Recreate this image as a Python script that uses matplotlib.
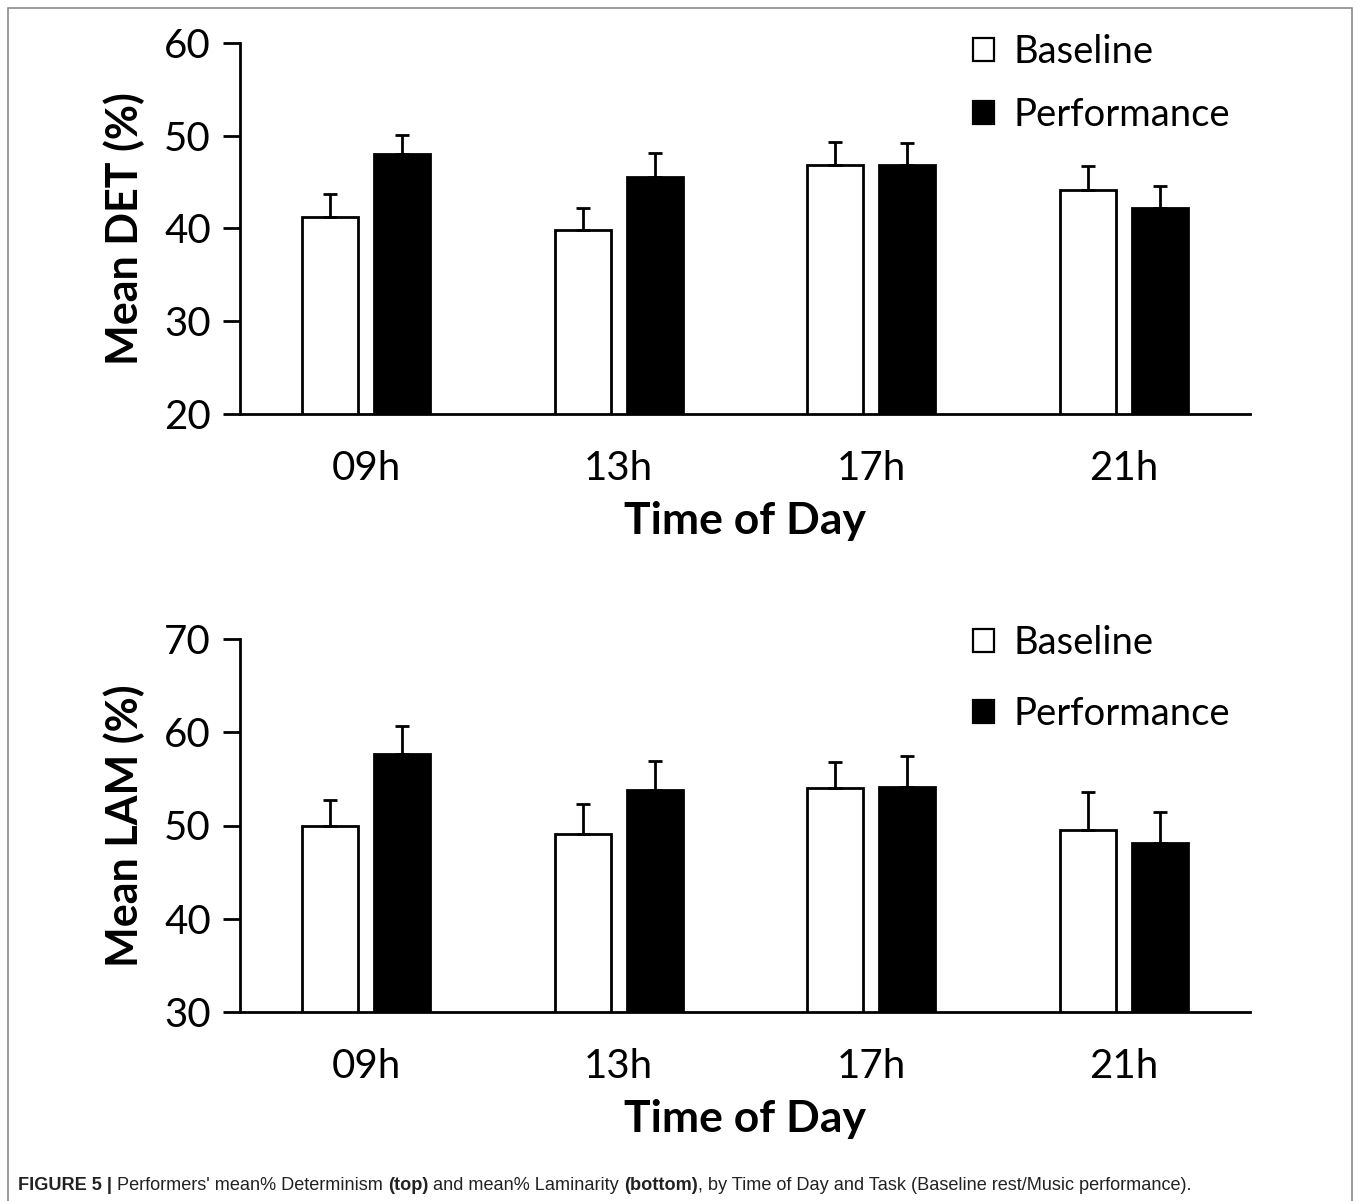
import matplotlib
matplotlib.use('Agg')
import matplotlib.pyplot as plt
from matplotlib.patches import Patch, Rectangle
import numpy as np

# Data
times = ['09h', '13h', '17h', '21h']

det_baseline = [41.2, 39.8, 46.9, 44.1]
det_baseline_err = [2.5, 2.4, 2.4, 2.6]
det_performance = [48.0, 45.6, 46.8, 42.2]
det_performance_err = [2.1, 2.5, 2.4, 2.4]

lam_baseline = [49.9, 49.1, 54.0, 49.5]
lam_baseline_err = [2.8, 3.2, 2.8, 4.1]
lam_performance = [57.7, 53.8, 54.1, 48.1]
lam_performance_err = [3.0, 3.1, 3.3, 3.4]

FONT = 'Lato'
W, H = 1358, 1201


def draw_panel(ax, base, base_err, perf, perf_err, ylim, ylabel, leg_anchor, leg_spacing):
    x = np.arange(len(times))
    width = 0.222
    off = 0.143
    err_kw = dict(ecolor='black', elinewidth=2, capsize=5, capthick=2)
    ax.bar(x - off, base, width, yerr=[[0] * len(base), base_err],
           color='white', edgecolor='black', linewidth=2, error_kw=err_kw,
           label='Baseline')
    ax.bar(x + off, perf, width, yerr=[[0] * len(perf), perf_err],
           color='black', edgecolor='black', linewidth=2, error_kw=err_kw,
           label='Performance')

    ax.set_xlim(-0.5, len(times) - 0.5)
    ax.set_ylim(*ylim)
    ax.set_yticks(np.arange(ylim[0], ylim[1] + 1, 10))
    ax.set_xticks(x)
    ax.set_xticklabels(times)
    ax.tick_params(axis='x', length=0, pad=26, labelsize=29)
    ax.tick_params(axis='y', length=12, width=2, direction='out', pad=9, labelsize=29)
    for lab in ax.get_xticklabels() + ax.get_yticklabels():
        lab.set_fontfamily(FONT)
    for s in ['top', 'right']:
        ax.spines[s].set_visible(False)
    for s in ['left', 'bottom']:
        ax.spines[s].set_linewidth(2)

    ax.set_ylabel(ylabel, fontsize=31, fontweight='bold', fontfamily=FONT, labelpad=14)
    ax.set_xlabel('Time of Day', fontsize=32, fontweight='bold', fontfamily=FONT, labelpad=10)

    handles = [Patch(facecolor='white', edgecolor='black', linewidth=1.6),
               Patch(facecolor='black', edgecolor='black', linewidth=1.6)]
    ax.legend(handles, ['Baseline', 'Performance'], loc='upper left',
              bbox_to_anchor=leg_anchor, frameon=False,
              prop={'family': FONT, 'size': 27.5},
              handlelength=0.55, handleheight=0.55, handletextpad=0.5,
              labelspacing=leg_spacing, borderaxespad=0, borderpad=0)


fig = plt.figure(figsize=(W / 100, H / 100), dpi=100)

ax1 = fig.add_axes([240 / W, 1 - 414 / H, 1010 / W, 371 / H])
draw_panel(ax1, det_baseline, det_baseline_err, det_performance, det_performance_err,
           (20, 60), 'Mean DET (%)', ((973 - 240) / 1010, (414 - 34) / 371), 0.72)

ax2 = fig.add_axes([240 / W, 1 - 1012 / H, 1010 / W, 373 / H])
draw_panel(ax2, lam_baseline, lam_baseline_err, lam_performance, lam_performance_err,
           (30, 70), 'Mean LAM (%)', ((973 - 240) / 1010, (1012 - 625) / 373), 0.92)

# Frame around the figure
fig.patches.append(Rectangle((8 / W, -0.01), 1344 / W, 1 - 8 / H + 0.01,
                             transform=fig.transFigure, fill=False,
                             edgecolor='#8a8a8a', linewidth=1.2))

# Caption with bold segments
parts = [("FIGURE 5 | ", 'bold'), ("Performers' mean% Determinism ", 'normal'),
         ("(top)", 'bold'), (" and mean% Laminarity ", 'normal'),
         ("(bottom)", 'bold'),
         (", by Time of Day and Task (Baseline rest/Music performance).", 'normal')]
fig.canvas.draw()
renderer = fig.canvas.get_renderer()
xpos = 18 / W
for txt, wt in parts:
    t = fig.text(xpos, 1 - 1186 / H, txt, fontsize=13.1, fontweight=wt,
                 fontfamily='Liberation Sans', va='center', ha='left', color='#222222')
    bb = t.get_window_extent(renderer=renderer)
    xpos += bb.width / W

fig.savefig('out.png', dpi=100)
